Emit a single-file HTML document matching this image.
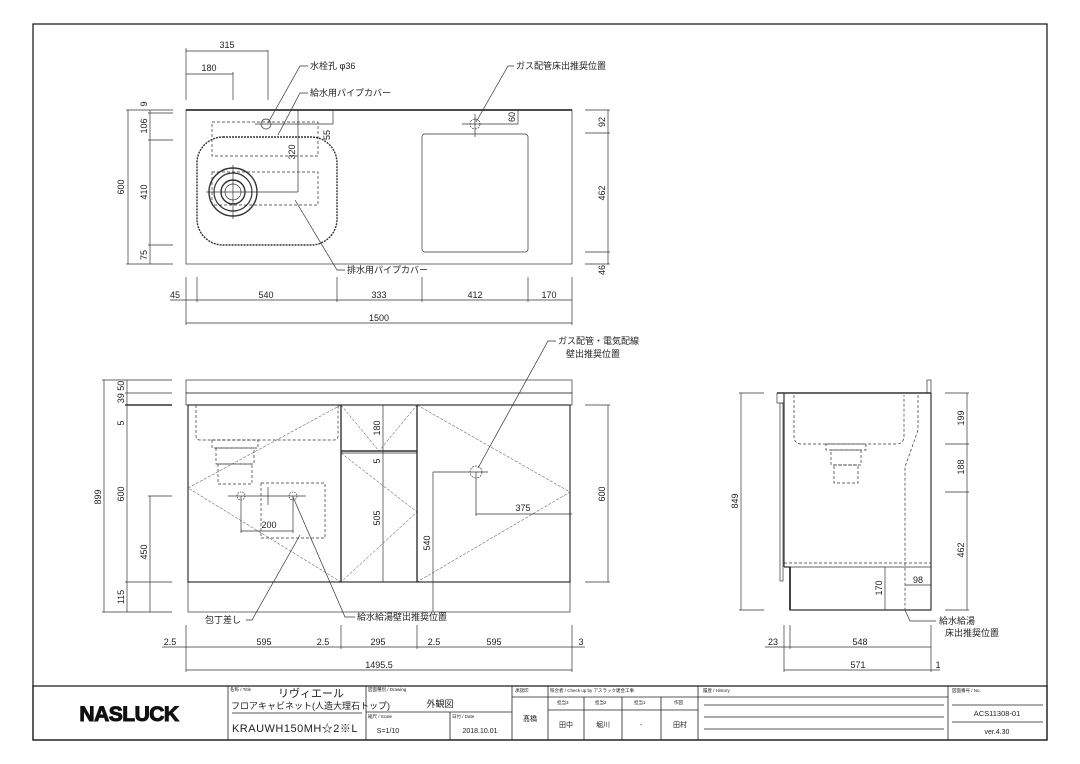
<!DOCTYPE html>
<html><head><meta charset="utf-8"><style>
html,body{margin:0;padding:0;background:#fff}
svg{display:block}
text{font-family:"Liberation Sans","Noto Sans CJK JP",sans-serif;fill:#222}
.d{font-size:9px}
.j{font-size:9px}
</style></head><body>
<svg width="1080" height="764" viewBox="0 0 1080 764" xmlns="http://www.w3.org/2000/svg">
<g fill="none" stroke="#333" stroke-width="0.7">
<rect x="33" y="24" width="1014" height="716" stroke="#111" stroke-width="1.2"/>
<!-- PLAN -->
<rect x="186" y="110" width="386" height="154"/>
<line x1="186" y1="110" x2="572" y2="110" stroke-width="1.8"/>
<rect x="197" y="137" width="140" height="108" rx="26" stroke-dasharray="2 1" stroke-width="1.4"/>
<rect x="212" y="122" width="106" height="34" stroke-dasharray="3 2"/>
<rect x="212" y="172" width="106" height="33" stroke-dasharray="3 2"/>
<circle cx="233" cy="192" r="24" stroke-width="1.4"/>
<circle cx="233" cy="192" r="19" stroke-width="1.2"/>
<circle cx="233" cy="192" r="12" stroke-width="1.4"/>
<circle cx="233" cy="192" r="8"/>
<line x1="206" y1="192" x2="298" y2="192"/><line x1="233" y1="165" x2="233" y2="219"/>
<circle cx="266" cy="124" r="5"/>
<line x1="255" y1="124" x2="333" y2="124"/>
<rect x="422" y="134" width="106" height="118" rx="3"/>
<circle cx="475" cy="124" r="5" stroke-dasharray="2 1"/>
<line x1="462" y1="124" x2="518" y2="124"/><line x1="475" y1="114" x2="475" y2="137"/>
<line x1="518" y1="110" x2="518" y2="124"/>
<line x1="333" y1="110" x2="333" y2="124"/><line x1="298" y1="110" x2="298" y2="192"/>
<line x1="186" y1="51" x2="268" y2="51"/><line x1="186" y1="74" x2="233" y2="74"/>
<line x1="186" y1="48" x2="186" y2="100"/><line x1="233" y1="72" x2="233" y2="100"/><line x1="268" y1="50" x2="268" y2="100"/>
<line x1="128" y1="110" x2="128" y2="264"/><line x1="150" y1="110" x2="150" y2="264"/>
<line x1="126" y1="110" x2="173" y2="110"/><line x1="148" y1="113" x2="173" y2="113"/><line x1="148" y1="140" x2="173" y2="140"/><line x1="148" y1="245" x2="173" y2="245"/><line x1="126" y1="264" x2="173" y2="264"/>
<line x1="608" y1="110" x2="608" y2="264"/>
<line x1="585" y1="110" x2="610" y2="110"/><line x1="585" y1="133" x2="610" y2="133"/><line x1="585" y1="252" x2="610" y2="252"/><line x1="585" y1="264" x2="610" y2="264"/>
<line x1="170" y1="300" x2="572" y2="300"/><line x1="186" y1="323" x2="572" y2="323"/>
<line x1="186" y1="277" x2="186" y2="325"/><line x1="197" y1="277" x2="197" y2="302"/><line x1="337" y1="277" x2="337" y2="302"/><line x1="422" y1="277" x2="422" y2="302"/><line x1="528" y1="277" x2="528" y2="302"/><line x1="572" y1="277" x2="572" y2="325"/>
<polyline points="268,123 300,66 308,66"/>
<polyline points="278,135 300,93 308,93"/>
<polyline points="295,200 337,270 345,270"/>
<polyline points="476,122 508,66 514,66"/>
<!-- FRONT -->
<rect x="186" y="380" width="386" height="13"/>
<rect x="186" y="393" width="386" height="12"/>
<rect x="188" y="405" width="382" height="177" stroke-width="1.2"/>
<rect x="188" y="582" width="382" height="30"/>
<line x1="341" y1="405" x2="341" y2="582" stroke-width="1.4"/>
<line x1="417" y1="405" x2="417" y2="582" stroke-width="1.4"/>
<line x1="341" y1="451" x2="417" y2="451" stroke-width="1.4"/>
<line x1="341" y1="453" x2="417" y2="453"/>
<g stroke-dasharray="3 1.5" stroke-width="0.5">
<polyline points="341,405 188,488 341,582"/>
<polyline points="417,405 570,492 417,582"/>
<polyline points="341,405 379,451 417,405"/>
<polyline points="341,453 417,512 341,582"/>
</g>
<g stroke-dasharray="3 2">
<path d="M196 405 V436 Q196 440 200 440 H334 Q338 440 338 436 V405"/>
<rect x="212" y="440" width="46" height="8"/>
<rect x="216" y="448" width="38" height="16"/>
<rect x="218" y="464" width="34" height="20"/>
<rect x="261" y="483" width="64" height="55"/>
</g>
<circle cx="241" cy="496" r="4" stroke-dasharray="1.5 1"/><circle cx="293" cy="496" r="4" stroke-dasharray="1.5 1"/>
<line x1="228" y1="496" x2="306" y2="496"/>
<line x1="241" y1="496" x2="241" y2="533"/><line x1="293" y1="496" x2="293" y2="533"/><line x1="241" y1="531" x2="293" y2="531"/>
<line x1="268" y1="487" x2="268" y2="505"/>
<circle cx="476" cy="472" r="6" stroke-dasharray="2 1"/>
<line x1="433" y1="472" x2="488" y2="472"/>
<line x1="433" y1="472" x2="433" y2="612"/>
<line x1="476" y1="472" x2="476" y2="516"/><line x1="476" y1="514" x2="572" y2="514"/>
<line x1="383" y1="405" x2="383" y2="582"/>
<line x1="104" y1="380" x2="104" y2="612"/><line x1="127" y1="380" x2="127" y2="612"/><line x1="150" y1="496" x2="150" y2="612"/>
<line x1="102" y1="380" x2="172" y2="380"/><line x1="125" y1="393" x2="172" y2="393"/><line x1="125" y1="405" x2="172" y2="405" stroke-width="1.4"/>
<line x1="148" y1="496" x2="172" y2="496"/><line x1="125" y1="582" x2="172" y2="582"/><line x1="102" y1="612" x2="172" y2="612"/>
<line x1="608" y1="405" x2="608" y2="582"/><line x1="585" y1="405" x2="610" y2="405"/><line x1="585" y1="582" x2="610" y2="582"/>
<line x1="162" y1="647" x2="585" y2="647"/><line x1="186" y1="670" x2="572" y2="670"/>
<line x1="186" y1="625" x2="186" y2="672"/><line x1="341" y1="625" x2="341" y2="649"/><line x1="417" y1="625" x2="417" y2="649"/><line x1="572" y1="625" x2="572" y2="672"/>
<polyline points="300,535 252,620 246,620"/>
<polyline points="293,497 345,617 355,617"/>
<polyline points="478,468 548,341 556,341"/>
<!-- SIDE -->
<line x1="777" y1="393" x2="931" y2="393" stroke-width="1.4"/>
<rect x="777" y="393" width="7" height="10"/>
<rect x="927" y="380" width="4" height="13"/>
<rect x="780" y="403" width="3" height="178"/>
<line x1="784" y1="393" x2="784" y2="567" stroke-width="1.2"/>
<polyline points="784,567 790,567 790,610 931,610 931,393" stroke-width="1.2"/>
<line x1="790" y1="567" x2="790" y2="610" stroke-width="1.8"/>
<line x1="784" y1="567" x2="931" y2="567"/>
<g stroke-dasharray="3 2">
<path d="M794 395 V436 Q794 444 802 444 H896 Q904 444 904 436 V395"/>
<rect x="826" y="444" width="40" height="6"/>
<rect x="831" y="450" width="30" height="15"/>
<rect x="834" y="465" width="24" height="18"/>
<line x1="784" y1="563" x2="931" y2="563"/>
<polyline points="918,395 918,430 905,467 905,610"/>
</g>
<line x1="885" y1="567" x2="885" y2="610"/>
<line x1="905" y1="585" x2="931" y2="585"/>
<line x1="741" y1="393" x2="741" y2="610"/><line x1="739" y1="393" x2="764" y2="393"/><line x1="739" y1="610" x2="764" y2="610"/>
<line x1="967" y1="393" x2="967" y2="610"/>
<line x1="945" y1="393" x2="969" y2="393"/><line x1="945" y1="444" x2="969" y2="444"/><line x1="945" y1="492" x2="969" y2="492"/><line x1="945" y1="610" x2="969" y2="610"/>
<line x1="765" y1="647" x2="931" y2="647"/><line x1="784" y1="670" x2="940" y2="670"/>
<line x1="784" y1="625" x2="784" y2="672"/><line x1="790" y1="625" x2="790" y2="649"/><line x1="931" y1="625" x2="931" y2="672"/>
<polyline points="905,610 910,621 936,621"/>
<!-- TITLE BLOCK -->
<rect x="33" y="686" width="1014" height="54" stroke="#111" stroke-width="1.2"/>
<g stroke="#222" stroke-width="0.8">
<line x1="228" y1="686" x2="228" y2="740"/><line x1="366" y1="686" x2="366" y2="740"/>
<line x1="512" y1="686" x2="512" y2="740"/><line x1="548" y1="686" x2="548" y2="740"/>
<line x1="698" y1="686" x2="698" y2="740"/><line x1="948" y1="686" x2="948" y2="740"/>
<line x1="232" y1="713" x2="362" y2="713"/>
<line x1="366" y1="712" x2="512" y2="712"/><line x1="450" y1="712" x2="450" y2="740"/>
<line x1="512" y1="697" x2="548" y2="697"/>
<line x1="548" y1="697" x2="698" y2="697"/><line x1="548" y1="710" x2="698" y2="710"/>
<line x1="584" y1="697" x2="584" y2="740"/><line x1="622" y1="697" x2="622" y2="740"/><line x1="661" y1="697" x2="661" y2="740"/>
<line x1="698" y1="697" x2="948" y2="697"/>
<line x1="704" y1="705" x2="944" y2="705"/><line x1="704" y1="717" x2="944" y2="717"/><line x1="704" y1="729" x2="944" y2="729"/>
<line x1="952" y1="705" x2="1043" y2="705"/><line x1="952" y1="722" x2="1043" y2="722"/>
</g>
</g>
<g class="d" text-anchor="middle">
<text x="227" y="48">315</text><text x="209" y="71">180</text>
<text x="175" y="298">45</text><text x="266" y="298">540</text><text x="379" y="298">333</text><text x="475" y="298">412</text><text x="549" y="298">170</text>
<text x="379" y="321">1500</text>
<text transform="translate(124,187) rotate(-90)">600</text>
<text transform="translate(147,104) rotate(-90)">9</text>
<text transform="translate(147,126) rotate(-90)">106</text>
<text transform="translate(147,192) rotate(-90)">410</text>
<text transform="translate(147,255) rotate(-90)">75</text>
<text transform="translate(605,122) rotate(-90)">92</text>
<text transform="translate(605,193) rotate(-90)">462</text>
<text transform="translate(605,270) rotate(-90)">46</text>
<text transform="translate(330,135) rotate(-90)">55</text>
<text transform="translate(295,152) rotate(-90)">320</text>
<text transform="translate(515,117) rotate(-90)">60</text>
<text transform="translate(101,497) rotate(-90)">899</text>
<text transform="translate(124,392) rotate(-90)">39 50</text>
<text transform="translate(124,423) rotate(-90)">5</text>
<text transform="translate(124,494) rotate(-90)">600</text>
<text transform="translate(147,552) rotate(-90)">450</text>
<text transform="translate(124,597) rotate(-90)">115</text>
<text transform="translate(380,428) rotate(-90)">180</text>
<text transform="translate(380,461) rotate(-90)">5</text>
<text transform="translate(380,518) rotate(-90)">505</text>
<text transform="translate(430,543) rotate(-90)">540</text>
<text transform="translate(605,494) rotate(-90)">600</text>
<text x="269" y="528">200</text><text x="523" y="511">375</text>
<text x="170" y="645">2.5</text><text x="264" y="645">595</text><text x="323" y="645">2.5</text><text x="378" y="645">295</text><text x="434" y="645">2.5</text><text x="494" y="645">595</text><text x="581" y="645">3</text>
<text x="379" y="668">1495.5</text>
<text transform="translate(738,501) rotate(-90)">849</text>
<text transform="translate(964,418) rotate(-90)">199</text>
<text transform="translate(964,467) rotate(-90)">188</text>
<text transform="translate(964,550) rotate(-90)">462</text>
<text transform="translate(882,588) rotate(-90)">170</text>
<text x="918" y="583">98</text>
<text x="773" y="645">23</text><text x="860" y="645">548</text><text x="858" y="668">571</text><text x="938" y="668">1</text>
</g>
<g class="j">
<text x="310" y="69">水栓孔 φ36</text>
<text x="310" y="96">給水用パイプカバー</text>
<text x="347" y="273">排水用パイプカバー</text>
<text x="516" y="69">ガス配管床出推奨位置</text>
<text x="558" y="344">ガス配管・電気配線</text>
<text x="566" y="357">壁出推奨位置</text>
<text x="205" y="623">包丁差し</text>
<text x="357" y="620">給水給湯壁出推奨位置</text>
<text x="939" y="624">給水給湯</text>
<text x="945" y="636">床出推奨位置</text>
</g>
<text x="129" y="721" text-anchor="middle" style="font-size:21px;font-weight:bold;fill:#111;stroke:#111;stroke-width:1;letter-spacing:-0.5px">NASLUCK</text>
<g style="font-size:4.5px;fill:#555">
<text x="230" y="691">名称 / Title</text><text x="368" y="691">図面種別 / Drawing</text>
<text x="368" y="718">縮尺 / Scale</text><text x="452" y="718">日付 / Date</text>
<text x="515" y="692">承認印</text><text x="550" y="692">照合者 / Check up by アスラック建会工事</text>
<text x="557" y="704">担当3</text><text x="595" y="704">担当2</text><text x="634" y="704">担当1</text><text x="674" y="704">作図</text>
<text x="703" y="692">履歴 / History</text><text x="952" y="692">図面番号 / No.</text>
</g>
<text x="278" y="697" style="font-size:11px">リヴィエール</text>
<text x="231" y="709" style="font-size:9px">フロアキャビネット(人造大理石トップ)</text>
<text x="295" y="732" text-anchor="middle" style="font-size:11px;letter-spacing:0.5px">KRAUWH150MH☆2※L</text>
<text x="440" y="707" text-anchor="middle" style="font-size:9px">外観図</text>
<text x="388" y="733" text-anchor="middle" style="font-size:7px">S=1/10</text>
<text x="480" y="733" text-anchor="middle" style="font-size:7px">2018.10.01</text>
<text x="530" y="721" text-anchor="middle" style="font-size:7px">髙橋</text>
<text x="566" y="727" text-anchor="middle" style="font-size:7px">田中</text>
<text x="603" y="727" text-anchor="middle" style="font-size:7px">堀川</text>
<text x="641" y="727" text-anchor="middle" style="font-size:7px">-</text>
<text x="680" y="727" text-anchor="middle" style="font-size:7px">田村</text>
<text x="997" y="716" text-anchor="middle" style="font-size:7.5px">ACS11308-01</text>
<text x="997" y="734" text-anchor="middle" style="font-size:7px">ver.4.30</text>
</svg>
</body></html>
